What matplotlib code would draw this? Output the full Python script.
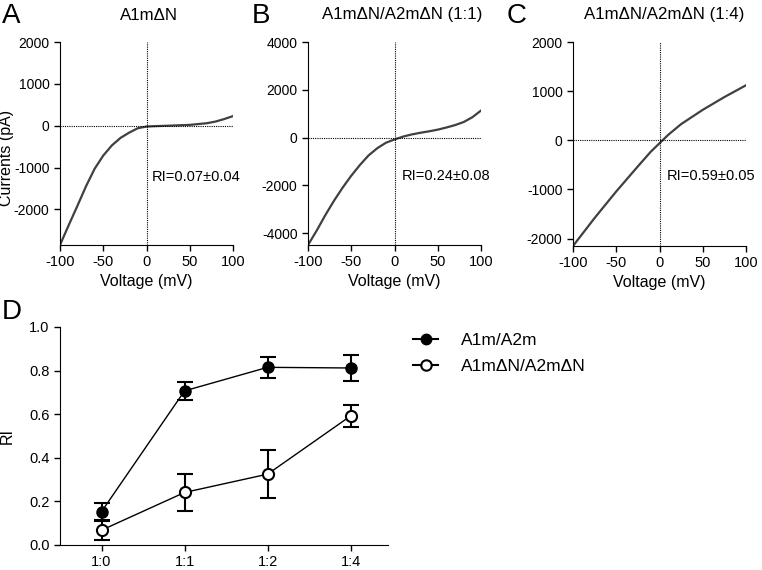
import matplotlib
matplotlib.use("Agg")
import matplotlib.pyplot as plt
from matplotlib.lines import Line2D

plt.rcParams['font.family'] = ['Liberation Sans', 'DejaVu Sans']
plt.rcParams['font.size'] = 10.5
plt.rcParams['axes.unicode_minus'] = False

# I-V curves (voltage in mV, current in pA)
volt_a = [-100, -90, -80, -70, -60, -50, -40, -30, -20, -10, 0, 10, 25, 50, 70, 80, 90, 100]
curr_a = [-2850, -2380, -1920, -1450, -1030, -713, -470, -290, -165, -60, -20, -10, 0, 20, 60, 100, 160, 230]

volt_b = [-100, -90, -80, -70, -60, -50, -40, -30, -20, -10, 0, 10, 20, 30, 40, 50, 60, 70, 80, 90, 100]
curr_b = [-4500, -3900, -3250, -2650, -2100, -1600, -1150, -750, -450, -220, -80, 40, 130, 200, 260,
          330, 420, 520, 650, 850, 1130]

volt_c = [-100, -75, -50, -25, -10, 0, 10, 25, 50, 75, 100]
curr_c = [-2150, -1580, -1040, -530, -230, -60, 110, 330, 620, 880, 1120]

# panel D
ratios = ["1:0", "1:1", "1:2", "1:4"]
ri_full = [0.153, 0.707, 0.815, 0.812]
ri_full_err = [0.04, 0.04, 0.048, 0.06]
ri_dn = [0.068, 0.241, 0.325, 0.592]
ri_dn_err = [0.043, 0.084, 0.11, 0.05]

W, H = 762, 570
fig = plt.figure(figsize=(W / 100, H / 100), dpi=100)


def px_axes(left, top, right, bottom):
    return fig.add_axes([left / W, 1 - bottom / H, (right - left) / W, (bottom - top) / H])


def style(ax):
    for s in ["top", "right"]:
        ax.spines[s].set_visible(False)
    ax.tick_params(direction="out", length=4, width=1, labelsize=10.5)
    ax.tick_params(axis="y", labelsize=10)


iv_panels = [
    (60, 42, 233, 245, volt_a, curr_a, (-2850, 2000), [-2000, -1000, 0, 1000, 2000],
     "A1mΔN", 149, "A", 2, "RI=0.07±0.04", (6, -1220)),
    (308, 42, 481, 245, volt_b, curr_b, (-4500, 4000), [-4000, -2000, 0, 2000, 4000],
     "A1mΔN/A2mΔN (1:1)", 402, "B", 252, "RI=0.24±0.08", (8, -1625)),
    (573, 42, 746, 246, volt_c, curr_c, (-2150, 2000), [-2000, -1000, 0, 1000, 2000],
     "A1mΔN/A2mΔN (1:4)", 664, "C", 507, "RI=0.59±0.05", (8, -730)),
]

for i, (l, t, r, b, v, c, ylim, yt, title, tx, letter, lx, ri, ri_pos) in enumerate(iv_panels):
    ax = px_axes(l, t, r, b)
    style(ax)
    ax.plot(v, c, color="#404040", lw=1.6)
    ax.axhline(0, color="black", lw=0.8, ls=(0, (1, 1)))
    ax.axvline(0, color="black", lw=0.8, ls=(0, (1, 1)))
    ax.set_xlim(-100, 100)
    ax.set_ylim(*ylim)
    ax.set_xticks([-100, -50, 0, 50, 100])
    ax.set_yticks(yt)
    ax.set_xlabel("Voltage (mV)", fontsize=11.5, labelpad=3)
    if i == 0:
        ax.set_ylabel("Currents (pA)", fontsize=11.5)
        ax.yaxis.set_label_coords(-0.268, 0.43)
    ax.text(ri_pos[0], ri_pos[1], ri, fontsize=10.5, va="center", ha="left")
    fig.text(tx / W, 1 - 15 / H, title, ha="center", va="center", fontsize=12.2)
    fig.text(lx / W, 1 - 23 / H, letter, ha="left", va="baseline", fontsize=20)

# panel D
axd = px_axes(60, 327, 388, 545)
style(axd)
x = list(range(len(ratios)))
axd.errorbar(x, ri_full, yerr=ri_full_err, fmt="none", ecolor="black", elinewidth=1.5,
             capsize=5.5, capthick=1.5, zorder=2)
axd.errorbar(x, ri_dn, yerr=ri_dn_err, fmt="none", ecolor="black", elinewidth=1.5,
             capsize=5.5, capthick=1.5, zorder=2)
axd.plot(x, ri_full, color="black", lw=1, marker="o", ms=8, mfc="black", mec="black", zorder=3)
axd.plot(x, ri_dn, color="black", lw=1, marker="o", ms=8, mfc="white", mec="black", mew=1.5, zorder=3)
axd.set_xlim(-0.5, 3.45)
axd.set_ylim(0, 1.0)
axd.set_xticks(x)
axd.set_xticklabels(ratios)
axd.set_yticks([0.0, 0.2, 0.4, 0.6, 0.8, 1.0])
axd.set_yticklabels(["0.0", "0.2", "0.4", "0.6", "0.8", "1.0"])
axd.tick_params(axis="y", labelsize=10.5)
axd.set_ylabel("RI", fontsize=11.5)
axd.yaxis.set_label_coords(-0.137, 0.5)
fig.text(2 / W, 1 - 319 / H, "D", ha="left", va="baseline", fontsize=20)

handles = [
    Line2D([], [], color="black", lw=1.5, marker="o", ms=7.5, mfc="black", mec="black"),
    Line2D([], [], color="black", lw=1.5, marker="o", ms=7.5, mfc="white", mec="black", mew=1.5),
]
fig.legend(handles, ["A1m/A2m", "A1mΔN/A2mΔN"], loc="upper left",
           bbox_to_anchor=(413 / W, 1 - 333 / H), frameon=False, fontsize=12.5,
           handlelength=1.45, handletextpad=1.3, labelspacing=0.6, borderpad=0, borderaxespad=0)

fig.savefig("out.png", dpi=100)
